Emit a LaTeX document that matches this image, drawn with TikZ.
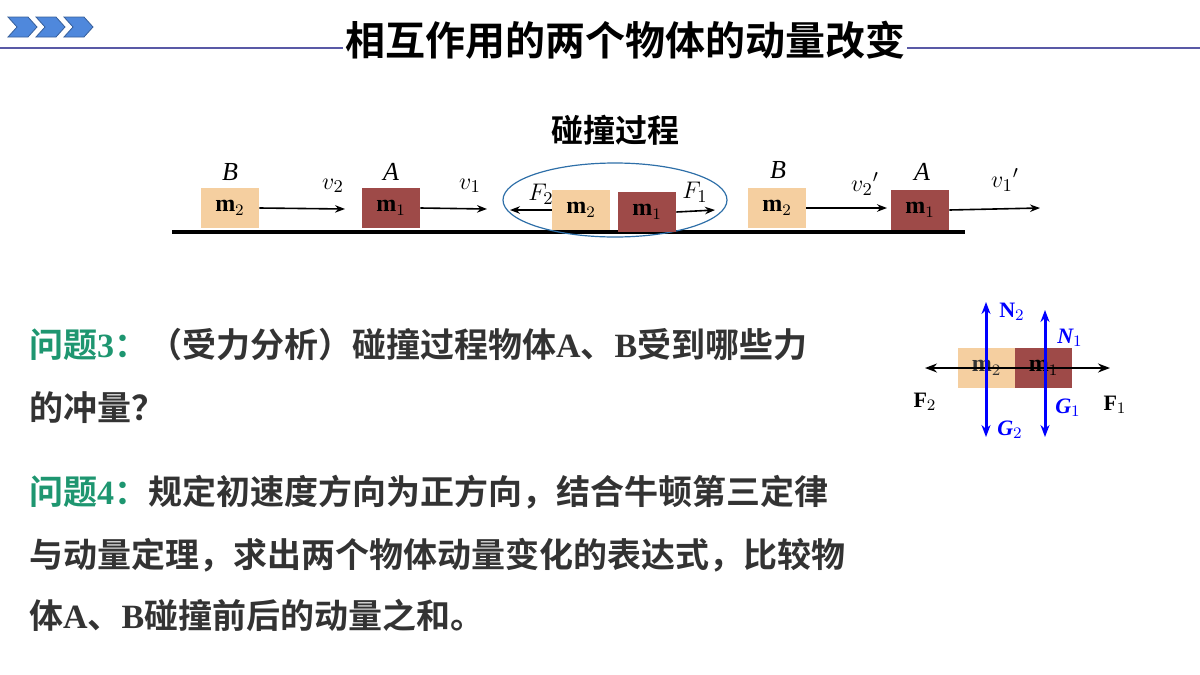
\documentclass[tikz,border=0pt]{standalone}
\usepackage{fontspec}
\setmainfont{Liberation Serif}
\newfontfamily\cjk{Noto Sans CJK SC}[BoldFont={Noto Sans CJK SC Bold}]
\definecolor{tan}{HTML}{F5CFA0}
\definecolor{brick}{HTML}{9E4A48}
\definecolor{qgreen}{HTML}{1E9670}
\definecolor{chev}{HTML}{4F88DC}
\definecolor{ring}{HTML}{2E6FA8}
\usetikzlibrary{arrows.meta}
\tikzset{
  lightblock/.style={fill=tan,minimum width=29pt,minimum height=20pt,inner sep=0pt,font=\bfseries\fontsize{12}{14}\selectfont},
  darkblock/.style={lightblock,fill=brick},
  vel/.style={thick,-{Stealth[length=5pt]}},
  force/.style={blue,line width=1.5pt,{Stealth[length=6pt]}-{Stealth[length=6pt]}},
  lab/.style={font=\itshape\fontsize{13}{15}\selectfont},
  qline/.style={anchor=west,font=\cjk\bfseries\fontsize{17}{20}\selectfont,text=black!80}
}
\begin{document}
\begin{tikzpicture}[x=0.5pt,y=-0.5pt]
    \useasboundingbox (0,0) rectangle (1200,675);
    %% Header
    \draw[gray!70!blue,thick] (0,48) -- (1200,48);
    \foreach \x in {8,36,64}
        \draw[fill=chev,draw=chev!70!black] (\x,17) -- ++(20,0) -- ++(9,10) -- ++(-9,10) -- ++(-20,0) -- ++(9,-10) -- cycle;
    \node[fill=white,inner sep=1pt,font=\cjk\bfseries\fontsize{20}{23}\selectfont] (title) at (625,40) {相互作用的两个物体的动量改变};
    \node[font=\cjk\bfseries\fontsize{16}{18}\selectfont] (sub) at (615,130) {碰撞过程};
    %% Floor
    \draw[line width=2pt] (172,232) -- (965,232);
    %% Before
    \node[lightblock] (b1) at (230,208) {m$_2$};
    \node[darkblock,text=black] (a1) at (391,208) {m$_1$};
    \coordinate (v2e) at (345,209);
    \coordinate (v1e) at (487,209);
    \draw[vel] (b1.east) -- (v2e);
    \draw[vel] (a1.east) -- (v1e);
    \node[lab] at (230,172) {B};
    \node[lab] at (391,172) {A};
    \node[lab] at (333,186) {$v_2$};
    \node[lab] at (470,186) {$v_1$};
    %% Collision
    \draw[ring,semithick] (615,200) ellipse (112 and 37);
    \node[lightblock] (b2) at (581,210) {m$_2$};
    \node[darkblock,text=black] (a2) at (647,212) {m$_1$};
    \coordinate (f2e) at (510,210);
    \coordinate (f1e) at (715,210);
    \draw[vel] (b2.west) -- (f2e);
    \draw[vel] (a2.east) -- (f1e);
    \node[lab] at (541,194) {$F_2$};
    \node[lab] at (695,192) {$F_1$};
    %% After
    \node[lightblock] (b3) at (777,208) {m$_2$};
    \node[darkblock,text=black] (a3) at (920,210) {m$_1$};
    \coordinate (v2f) at (887,208);
    \coordinate (v1f) at (1040,208);
    \draw[vel] (b3.east) -- (v2f);
    \draw[vel] (a3.east) -- (v1f);
    \node[lab] at (778,170) {B};
    \node[lab] at (922,172) {A};
    \node[lab] at (865,184) {$v_2{}'$};
    \node[lab] at (1005,180) {$v_1{}'$};
    %% Questions
    \node[qline] (q3) at (22,345) {\textcolor{qgreen}{问题\textrm{3}：}（受力分析）碰撞过程物体\textrm{A}、\textrm{B}受到哪些力};
    \node[qline] (q3b) at (22,408) {的冲量？};
    \node[qline] (q4) at (22,492) {\textcolor{qgreen}{问题\textrm{4}：}规定初速度方向为正方向，结合牛顿第三定律};
    \node[qline] (q4b) at (22,555) {与动量定理，求出两个物体动量变化的表达式，比较物};
    \node[qline] (q4c) at (22,615) {体\textrm{A}、\textrm{B}碰撞前后的动量之和。};
    %% Force diagram
    \node[lightblock,minimum width=28.5pt,text=black!80] (fb) at (986.5,368) {m$_2$};
    \node[darkblock,minimum width=28.5pt,text=black] (fa) at (1043.5,368) {m$_1$};
    \coordinate (fl) at (925,368);
    \coordinate (fr) at (1110,368);
    \draw[thick,{Stealth[length=6pt]}-{Stealth[length=6pt]}] (fl) -- (fr);
    \coordinate (n2) at (986,302);
    \coordinate (g2) at (986,437);
    \coordinate (n1) at (1045,310);
    \coordinate (g1) at (1045,437);
    \draw[force] (n2) -- (g2);
    \draw[force] (n1) -- (g1);
    \node[font=\bfseries\fontsize{11}{13}\selectfont,text=blue] at (1012,312) {N$_2$};
    \node[font=\bfseries\itshape\fontsize{11}{13}\selectfont,text=blue] at (1070,338) {N$_1$};
    \node[font=\bfseries\itshape\fontsize{11}{13}\selectfont,text=blue] at (1010,430) {G$_2$};
    \node[font=\bfseries\itshape\fontsize{11}{13}\selectfont,text=blue] at (1068,408) {G$_1$};
    \node[font=\bfseries\fontsize{11}{13}\selectfont] at (925,402) {F$_2$};
    \node[font=\bfseries\fontsize{11}{13}\selectfont] at (1115,405) {F$_1$};
\end{tikzpicture}
\end{document}
